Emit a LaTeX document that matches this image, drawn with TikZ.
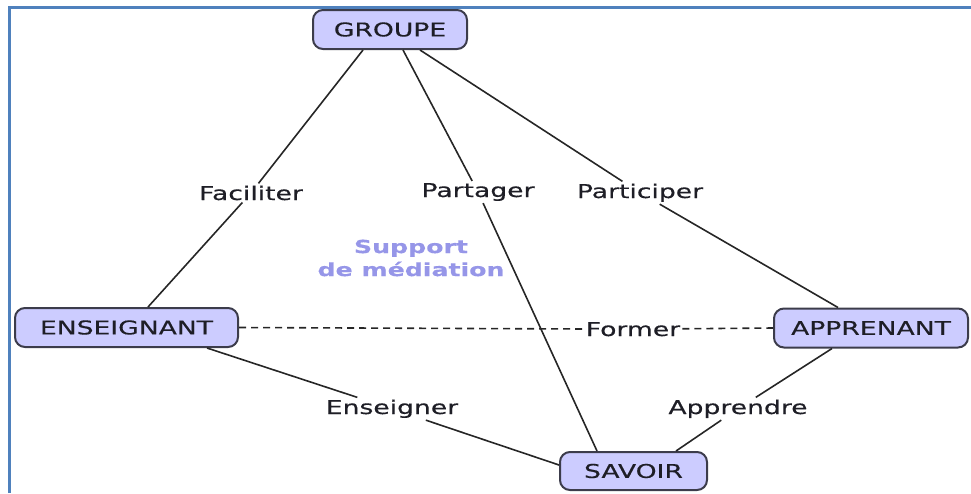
\documentclass[tikz,border=0pt]{standalone}
\usepackage{fontspec}
\setmainfont{DejaVu Sans}[FakeStretch=1.4,FakeBold=0.4]
\usetikzlibrary{calc}
\definecolor{boxfill}{RGB}{204,204,255}
\definecolor{boxdraw}{RGB}{60,60,75}
\definecolor{frameblue}{RGB}{79,129,189}
\definecolor{medi}{RGB}{150,150,232}
\definecolor{txt}{RGB}{30,30,38}
\begin{document}
\begin{tikzpicture}[x=1pt,y=-1pt,
  concept/.style={draw=boxdraw,line width=2pt,fill=boxfill,rounded corners=10pt,
    text=txt,font=\fontsize{19}{23}\selectfont,inner sep=0pt},
  lbl/.style={font=\fontsize{19}{23}\selectfont,text=txt,inner sep=2pt,anchor=base},
  link/.style={draw=black!85,line width=1.6pt}]
\useasboundingbox (0,0) rectangle (971,493);
\draw[frameblue,line width=3pt] (9.5,493) -- (9.5,7.3) -- (971,7.3);

\node[concept,minimum width=154pt,minimum height=39pt] (groupe) at (390,29.5) {GROUPE};
\node[concept,minimum width=223pt,minimum height=39pt] (ens) at (126.5,327.5) {ENSEIGNANT};
\node[concept,minimum width=194pt,minimum height=39pt] (app) at (871,328) {APPRENANT};
\node[concept,minimum width=147pt,minimum height=38pt] (sav) at (633.5,471) {SAVOIR};

\node[lbl] (fac) at (251,200) {Faciliter};
\node[lbl] (par) at (478,197) {Partager};
\node[lbl] (parti) at (640,198) {Participer};
\node[lbl] (for) at (633,336) {Former};
\node[lbl] (enseig) at (392,414) {Enseigner};
\node[lbl] (appr) at (738,414) {Apprendre};

\node[font=\bfseries\fontsize{18}{23}\selectfont,text=medi,align=center] (sup) at (411,258) {Support\\de médiation};

\draw[link] ($(groupe.south)+(-27,0)$) -- (fac) -- ($(ens.north)+(21.5,0)$);
\draw[link] ($(groupe.south)+(13,0)$) -- (par) -- ($(sav.north)+(-36.5,0)$);
\draw[link] ($(groupe.south)+(30,0)$) -- (parti) -- ($(app.north)+(-33,0)$);
\draw[link,dash pattern=on 7pt off 5pt] (ens.east) -- (for) -- (app.west);
\draw[link] ($(ens.south)+(80.5,0)$) -- (enseig) -- ($(sav.west)+(0,-6)$);
\draw[link] ($(app.south)+(-39,0)$) -- (appr) -- ($(sav.north)+(42.5,0)$);
\end{tikzpicture}
\end{document}
